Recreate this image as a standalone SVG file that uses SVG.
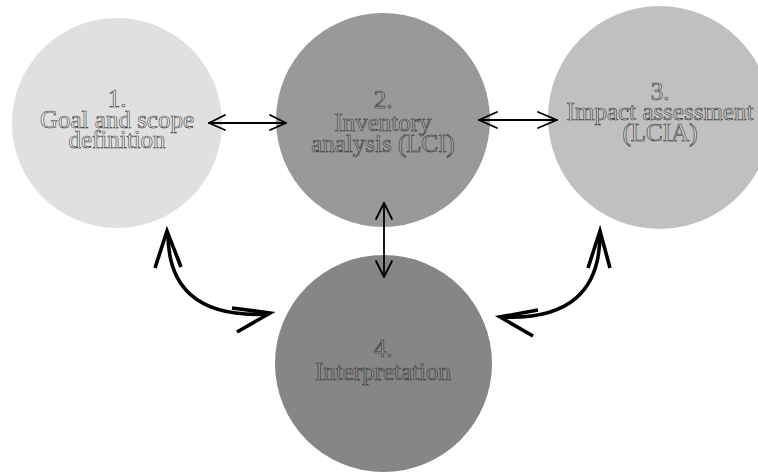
<svg xmlns="http://www.w3.org/2000/svg" width="758" height="472" viewBox="0 0 758 472">
<style>
.lbl{font-family:"Liberation Serif","Times New Roman",serif;font-size:25px;text-anchor:middle;stroke:#333;stroke-width:0.6}
.thin{fill:none;stroke:#000;stroke-width:1.8;stroke-linecap:round;stroke-linejoin:round}
.thick{fill:none;stroke:#000;stroke-width:3.6;stroke-linejoin:miter}
</style>
<rect width="758" height="472" fill="#fff"/>
<g id="node1">
<circle cx="117" cy="123" r="105" fill="#e0e0e0"/>
<text class="lbl" fill="#f2f2f2"><tspan x="117" y="107">1.</tspan><tspan x="117" y="128">Goal and scope</tspan><tspan x="117" y="148">definition</tspan></text>
</g>
<g id="node2">
<circle cx="383" cy="120" r="107" fill="#999"/>
<text class="lbl" fill="#a8a8a8"><tspan x="383" y="108">2.</tspan><tspan x="383" y="131">Inventory</tspan><tspan x="383" y="152">analysis (LCI)</tspan></text>
</g>
<g id="node3">
<circle cx="659.5" cy="117.5" r="111.5" fill="#c0c0c0"/>
<text class="lbl" fill="#cfcfcf"><tspan x="660" y="100">3.</tspan><tspan x="660" y="120">Impact assessment</tspan><tspan x="660" y="141">(LCIA)</tspan></text>
</g>
<g id="node4">
<circle cx="383.5" cy="363.5" r="108.5" fill="#868686"/>
<text class="lbl" fill="#939393"><tspan x="383" y="357">4.</tspan><tspan x="383" y="380">Interpretation</tspan></text>
</g>
<g id="connectors">
<line class="thin" x1="209" y1="123" x2="286" y2="123"/>
<polyline class="thin" points="225,115 209,123 225,130"/>
<polyline class="thin" points="270,115 286,123 270,130"/>
<line class="thin" x1="479" y1="120" x2="557" y2="120"/>
<polyline class="thin" points="497,112 479,120 497,128"/>
<polyline class="thin" points="538,112 557,120 538,128"/>
<line class="thin" x1="384" y1="203" x2="384" y2="277"/>
<polyline class="thin" points="376,219 384,203 392,219"/>
<polyline class="thin" points="376,261 384,277 392,261"/>
<path class="thick" d="M168,234 C168,285 195,318 268,314"/>
<polyline class="thick" points="155,268 167,231 181,267"/>
<polyline class="thick" points="232,308 270,313 237,332"/>
<path class="thick" d="M600,234 C600,290 570,320 502,317"/>
<polyline class="thick" points="588,268 600,231 610,268"/>
<polyline class="thick" points="538,310 500,317 533,336"/>
</g>
</svg>
